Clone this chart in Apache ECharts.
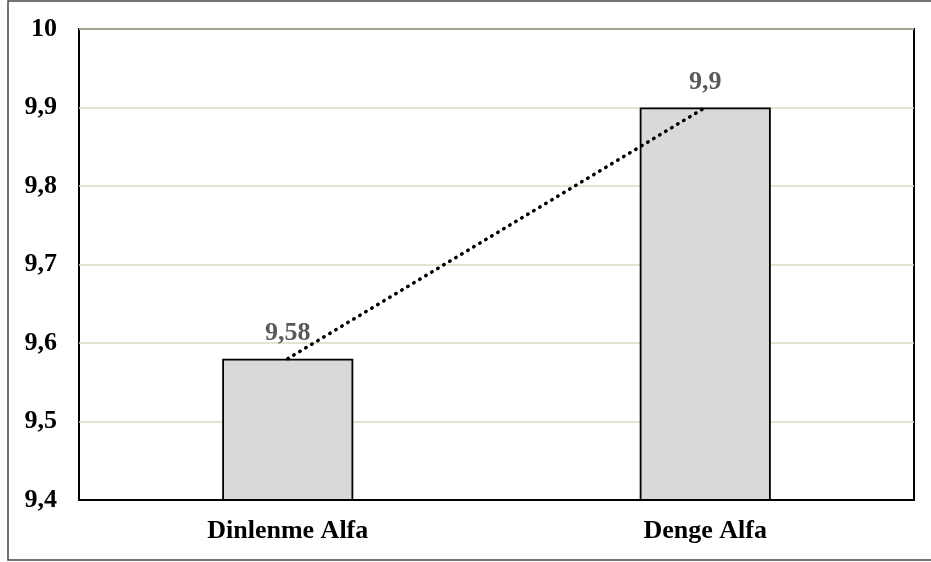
<!DOCTYPE html>
<html>
<head>
<meta charset="utf-8">
<script src="https://cdn.jsdelivr.net/npm/echarts@6/dist/echarts.min.js"></script>
<style>
  html, body { margin: 0; padding: 0; background: #fff; }
  #chart { width: 931px; height: 562px; }
</style>
</head>
<body>
<div id="chart"></div>
<script>
// veri
const categories = ['Dinlenme Alfa', 'Denge Alfa'];
const values = [9.58, 9.9];
const yMin = 9.4, yMax = 10, yStep = 0.1;

const chart = echarts.init(document.getElementById('chart'));
const font = '"Liberation Serif", "Times New Roman", serif';

chart.setOption({
    animation: false,
    graphic: [{
        type: 'rect',
        shape: { x: 8, y: 1, width: 940, height: 559 },
        style: { fill: 'none', stroke: '#444', lineWidth: 1.5 },
        silent: true
    }],
    grid: {
        left: 79, right: 17, top: 29, bottom: 62,
        show: true, borderColor: '#000', borderWidth: 2
    },
    xAxis: {
        type: 'category',
        data: categories,
        axisLine: { show: true, lineStyle: { color: '#000', width: 2 } },
        axisTick: { show: false },
        axisLabel: {
            margin: 18, color: '#000', fontFamily: font,
            fontWeight: 'bold', fontSize: 26
        }
    },
    yAxis: {
        type: 'value',
        min: yMin, max: yMax, interval: yStep,
        axisLine: { show: false },
        axisTick: { show: false },
        splitLine: { lineStyle: { color: '#ddd9c3', width: 1.5 } },
        axisLabel: {
            margin: 22, color: '#000', fontFamily: font,
            fontWeight: 'bold', fontSize: 26,
            formatter: v => String(Math.round(v * 10) / 10).replace('.', ',')
        }
    },
    series: [{
        type: 'bar',
        data: values,
        barWidth: '31.4%',
        itemStyle: { color: '#d9d9d9', borderColor: '#000', borderWidth: 1.8 },
        label: {
            show: true, position: 'top', distance: 12,
            color: '#595959', fontFamily: font, fontWeight: 'bold', fontSize: 26,
            formatter: p => String(p.value).replace('.', ',')
        }
    }, {
        type: 'line',
        data: values,
        symbol: 'none',
        z: 5,
        lineStyle: { color: '#000', width: 3.5, type: [0.5, 6.5], cap: 'round' }
    }]
});
</script>
</body>
</html>
